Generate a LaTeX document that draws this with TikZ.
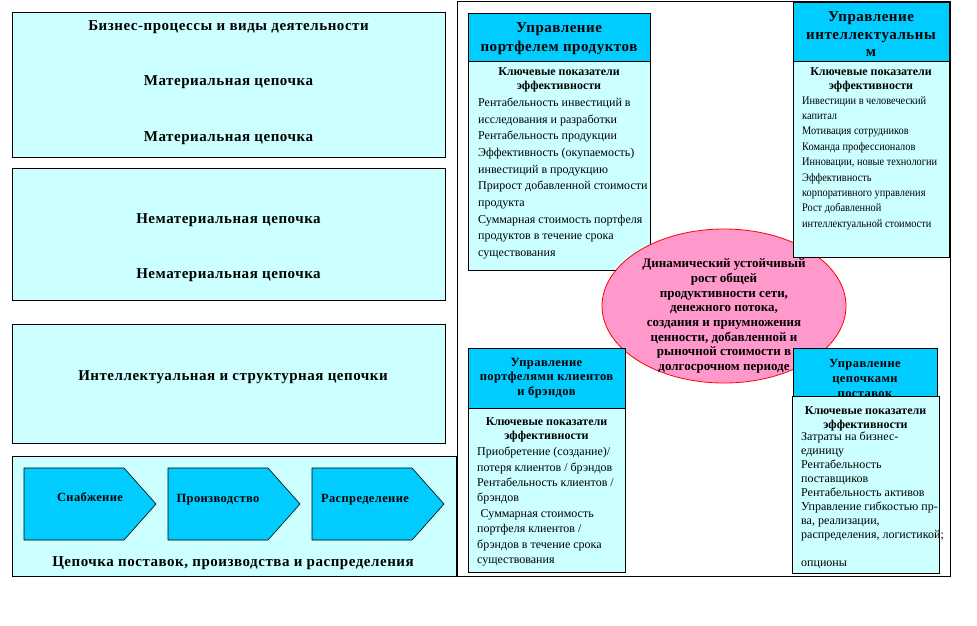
\documentclass[tikz,border=0pt]{standalone}
\usepackage{fontspec}
\setmainfont{Liberation Serif}
\newfontfamily\condfont[FakeStretch=0.9]{Liberation Serif}
\newfontfamily\spacedfont[LetterSpace=3.5]{Liberation Serif}
\newfontfamily\lspacedfont[LetterSpace=3]{Liberation Serif}
\usetikzlibrary{shapes.geometric}
\definecolor{lcyan}{HTML}{CCFFFF}
\definecolor{hcyan}{HTML}{00CCFF}
\definecolor{epink}{HTML}{FF99CC}
\definecolor{ered}{HTML}{FF0000}
\begin{document}
\begin{tikzpicture}[x=1pt,y=-1pt,
  panel/.style={draw=black, fill=lcyan, line width=0.8pt, inner sep=0pt},
  hdr/.style={draw=black, fill=hcyan, line width=0.8pt, inner sep=0pt},
  chev/.style={draw=black, fill=hcyan, line width=0.6pt},
  ptext/.style={font=\spacedfont\fontsize{15}{18}\bfseries\selectfont, inner sep=0pt},
  htext/.style={font=\spacedfont\fontsize{15}{#1}\bfseries\selectfont, inner sep=0pt, align=center},
  stext/.style={font=\spacedfont\fontsize{12.5}{#1}\bfseries\selectfont, inner sep=0pt, align=center},
  ktext/.style={font=\fontsize{12}{14}\bfseries\selectfont, inner sep=0pt, align=center},
  btext/.style={font=\fontsize{12}{#1}\selectfont, inner sep=0pt, align=left, anchor=west},
  ctext/.style={font=\lspacedfont\fontsize{12.5}{14}\bfseries\selectfont, inner sep=0pt},
  etext/.style={font=\fontsize{13}{14.7}\bfseries\selectfont, inner sep=0pt, align=center}]
\useasboundingbox (0,0) rectangle (977,625);
% right frame
\node[draw=black, line width=0.8pt, fill=white, inner sep=0pt, minimum width=493pt, minimum height=575pt] (frame) at (703.5,288.5) {};
% left panels
\node[panel, minimum width=433pt, minimum height=145pt] (p1) at (228.5,84.5) {};
\node[panel, minimum width=433pt, minimum height=132pt] (p2) at (228.5,234) {};
\node[panel, minimum width=433pt, minimum height=119pt] (p3) at (228.5,383.5) {};
\node[panel, minimum width=444pt, minimum height=120pt] (p4) at (234,516) {};
\node[ptext] (t1) at (228.5,27.5) {Бизнес-процессы и виды деятельности};
\node[ptext] (t2) at (228.5,82.5) {Материальная цепочка};
\node[ptext] (t3) at (228.5,138.5) {Материальная цепочка};
\node[ptext] (t4) at (228.5,220.5) {Нематериальная цепочка};
\node[ptext] (t5) at (228.5,275.5) {Нематериальная цепочка};
\node[ptext] (t6) at (233,377) {Интеллектуальная и структурная цепочки};
\node[ptext] (t7) at (233,563) {Цепочка поставок, производства и распределения};
% chevrons
\draw[chev] (24,468) -- (124,468) -- (156,504) -- (124,540) -- (24,540) -- cycle;
\draw[chev] (168,468) -- (268,468) -- (300,504) -- (268,540) -- (168,540) -- cycle;
\draw[chev] (312,468) -- (412,468) -- (444,504) -- (412,540) -- (312,540) -- cycle;
\node[ctext] (c1) at (90,497) {Снабжение};
\node[ctext] (c2) at (218,500) {Производство};
\node[ctext] (c3) at (365,500) {Распределение};
% box 1: products
\node[panel, minimum width=182pt, minimum height=209pt] (b1) at (559,165.5) {};
\node[hdr, minimum width=182pt, minimum height=48pt] (h1) at (559,37) {};
\node[htext=19] (h1t) at (559,38.5) {Управление\\портфелем продуктов};
\node[ktext] (k1) at (559,79.5) {Ключевые показатели\\эффективности};
\node[btext=16.7] (l1) at (478,178.5) {Рентабельность инвестиций в\\исследования и разработки\\Рентабельность продукции\\Эффективность (окупаемость)\\инвестиций в продукцию\\Прирост добавленной стоимости\\продукта\\Суммарная стоимость портфеля\\продуктов в течение срока\\существования};
% ellipse
\node[ellipse, draw=ered, line width=0.8pt, fill=epink, minimum width=244pt, minimum height=154pt, inner sep=0pt] (el) at (724,306) {};
\node[etext] (elt) at (724,316) {Динамический устойчивый\\рост общей\\продуктивности сети,\\денежного потока,\\создания и приумножения\\ценности, добавленной и\\рыночной стоимости в\\долгосрочном периоде};
% box 2: intellectual
\node[panel, minimum width=156pt, minimum height=196pt] (b2) at (871,159) {};
\node[hdr, minimum width=156pt, minimum height=59pt] (h2) at (871,31.5) {};
\node[htext=17.5] (h2t) at (871,34.3) {Управление\\интеллектуальны\\м};
\node[ktext] (k2) at (871,79.5) {Ключевые показатели\\эффективности};
\node[btext=15.4, font=\condfont\fontsize{11.5}{15.4}\selectfont] (l2) at (802,163) {Инвестиции в человеческий\\капитал\\Мотивация сотрудников\\Команда профессионалов\\Инновации, новые технологии\\Эффективность\\корпоративного управления\\Рост добавленной\\интеллектуальной стоимости};
% box 3: clients
\node[panel, minimum width=157pt, minimum height=164pt] (b3) at (546.5,490) {};
\node[hdr, minimum width=157pt, minimum height=60pt] (h3) at (546.5,378) {};
\node[stext=14.5] (h3t) at (546.5,378) {Управление\\портфелями клиентов\\и брэндов};
\node[ktext] (k3) at (546.5,430) {Ключевые показатели\\эффективности};
\node[btext=15.4] (l3) at (477,506.5) {Приобретение (создание)/\\потеря клиентов / брэндов\\Рентабельность клиентов /\\брэндов\\\hspace*{3.5pt}Суммарная стоимость\\портфеля клиентов /\\брэндов в течение срока\\существования};
% box 4: supply chains
\node[hdr, minimum width=144pt, minimum height=57pt] (h4) at (865,376.5) {};
\node[stext=15] (h4t) at (865,378.5) {Управление\\цепочками\\поставок};
\node[panel, minimum width=147pt, minimum height=177pt] (b4) at (865.5,484.5) {};
\node[ktext] (k4) at (865.5,418.5) {Ключевые показатели\\эффективности};
\node[btext=14] (l4) at (801,500.5) {Затраты на бизнес-\\единицу\\Рентабельность\\поставщиков\\Рентабельность активов\\Управление гибкостью пр-\\ва, реализации,\\распределения, логистикой;\\[14pt]опционы};
\end{tikzpicture}
\end{document}
